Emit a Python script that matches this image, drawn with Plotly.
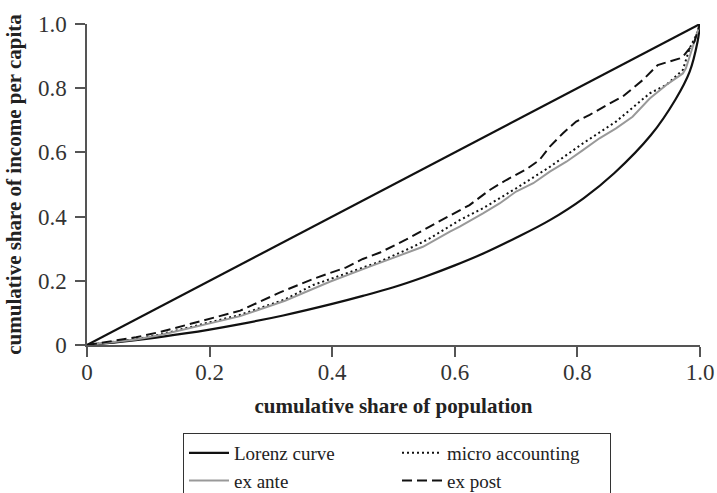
import plotly.graph_objects as go

# ---- data ----
equality_x = [0.0, 1.0]
equality_y = [0.0, 1.0]

lorenz_x = [0, 0.05, 0.1, 0.16, 0.2, 0.25, 0.32, 0.4, 0.45, 0.5, 0.55, 0.6, 0.65,
            0.7, 0.755, 0.81, 0.86, 0.92, 0.96, 0.983, 0.996, 1.0]
lorenz_y = [0, 0.009, 0.02, 0.036, 0.048, 0.065, 0.092, 0.128, 0.153, 0.180, 0.212,
            0.248, 0.288, 0.334, 0.389, 0.457, 0.535, 0.654, 0.765, 0.851, 0.945, 1.0]

micro_x = [0, 0.04, 0.08, 0.12, 0.16, 0.2, 0.25, 0.323, 0.369, 0.423, 0.478, 0.532,
           0.559, 0.608, 0.646, 0.700, 0.755, 0.809, 0.863, 0.918, 0.945, 0.972,
           0.983, 0.994, 1.0]
micro_y = [0, 0.009, 0.018, 0.033, 0.052, 0.071, 0.094, 0.142, 0.187, 0.223, 0.260,
           0.306, 0.332, 0.389, 0.426, 0.488, 0.555, 0.628, 0.696, 0.784, 0.810,
           0.857, 0.924, 0.966, 1.0]

exante_x = [0, 0.04, 0.08, 0.12, 0.16, 0.2, 0.25, 0.323, 0.396, 0.461, 0.548, 0.592,
            0.608, 0.646, 0.673, 0.700, 0.728, 0.755, 0.782, 0.809, 0.836, 0.863,
            0.890, 0.918, 0.945, 0.972, 0.977, 0.99, 1.0]
exante_y = [0, 0.008, 0.017, 0.031, 0.049, 0.067, 0.090, 0.138, 0.197, 0.244, 0.306,
            0.353, 0.369, 0.410, 0.441, 0.478, 0.504, 0.540, 0.571, 0.607, 0.644,
            0.675, 0.711, 0.768, 0.810, 0.846, 0.862, 0.940, 1.0]

expost_x = [0, 0.04, 0.08, 0.12, 0.16, 0.2, 0.25, 0.315, 0.369, 0.423, 0.450, 0.478,
            0.521, 0.559, 0.603, 0.624, 0.657, 0.684, 0.717, 0.738, 0.755, 0.776,
            0.798, 0.820, 0.853, 0.874, 0.907, 0.931, 0.967, 0.972, 0.983, 0.991,
            0.996, 1.0]
expost_y = [0, 0.011, 0.024, 0.041, 0.062, 0.081, 0.107, 0.164, 0.206, 0.242, 0.268,
            0.288, 0.329, 0.369, 0.415, 0.436, 0.483, 0.514, 0.548, 0.576, 0.618,
            0.659, 0.696, 0.717, 0.753, 0.774, 0.826, 0.872, 0.893, 0.898, 0.924,
            0.945, 0.976, 1.0]

tick_vals = [0, 0.2, 0.4, 0.6, 0.8, 1.0]
tick_text = ["0", "0.2", "0.4", "0.6", "0.8", "1.0"]

FONT = "Liberation Serif"
INK = "#222222"
AXIS = "#555555"

fig = go.Figure()
fig.add_trace(go.Scatter(x=lorenz_x, y=lorenz_y, mode="lines", name="Lorenz curve",
                         line=dict(color="#111111", width=2.2, shape="spline")))
fig.add_trace(go.Scatter(x=micro_x, y=micro_y, mode="lines", name="micro accounting",
                         line=dict(color="#111111", width=2, dash="2px,3px")))
fig.add_trace(go.Scatter(x=exante_x, y=exante_y, mode="lines", name="ex ante",
                         line=dict(color="#999999", width=2)))
fig.add_trace(go.Scatter(x=expost_x, y=expost_y, mode="lines", name="ex post",
                         line=dict(color="#111111", width=2, dash="10px,5px")))
fig.add_trace(go.Scatter(x=equality_x, y=equality_y, mode="lines", name="equality",
                         showlegend=False,
                         line=dict(color="#111111", width=2.2)))

PLOT_W = 613
PLOT_H = 321
fig.update_layout(
    width=717, height=493,
    margin=dict(l=87, r=17, t=24, b=148, autoexpand=False),
    paper_bgcolor="white", plot_bgcolor="white",
    font=dict(family=FONT, color=INK, size=20),
    showlegend=True,
    legend=dict(orientation="h", x=(183 - 87) / PLOT_W, xanchor="left",
                y=(345 - 433) / PLOT_H, yanchor="top",
                bordercolor="#333333", borderwidth=1, bgcolor="white",
                font=dict(family=FONT, size=19, color=INK),
                entrywidth=158, entrywidthmode="pixels", traceorder="normal",
                tracegroupgap=0, itemwidth=40),
)
fig.update_xaxes(range=[0, 1], tickvals=tick_vals, ticktext=tick_text,
                 showgrid=False, zeroline=False, showline=True, linecolor=AXIS,
                 linewidth=1.5, ticks="outside", ticklen=10, tickcolor=AXIS,
                 tickwidth=1.5, tickfont=dict(family=FONT, size=23, color="#333333"),
                 ticklabelstandoff=-4, automargin=False,
                 title=dict(text="<b>cumulative share of population</b>",
                            font=dict(family=FONT, size=21, color=INK), standoff=14))
fig.update_yaxes(range=[0, 1], tickvals=tick_vals, ticktext=tick_text,
                 showgrid=False, zeroline=False, showline=True, linecolor=AXIS,
                 linewidth=1.5, ticks="outside", ticklen=10, tickcolor=AXIS,
                 tickwidth=1.5, tickfont=dict(family=FONT, size=23, color="#333333"),
                 ticklabelstandoff=4, automargin=False,
                 title=dict(text="<b>cumulative share of income per capita</b>",
                            font=dict(family=FONT, size=21, color=INK), standoff=11))

# remove the page's default 8px body margin and scrollbars so the 717x493 figure fills the window
page_js = ("document.documentElement.style.overflow='hidden';"
           "document.body.style.margin='0';document.body.style.overflow='hidden';")
fig.write_html("out.html", post_script=page_js, config={"displayModeBar": False})
